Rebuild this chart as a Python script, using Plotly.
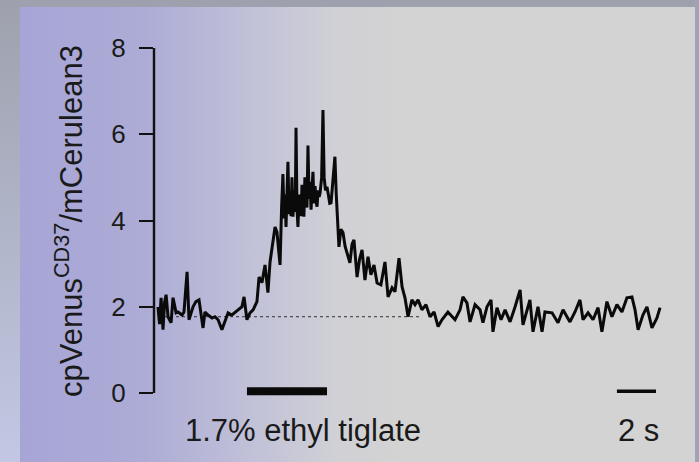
import base64
import plotly.graph_objects as go

# ---- data (time in s, ratio values) ----
time_s = [0.00, 0.08, 0.16, 0.26, 0.34, 0.42, 0.52, 0.68, 0.78, 0.94, 1.04, 1.25, 1.35, 1.51, 1.61,
          1.82, 1.97, 2.13, 2.34, 2.44, 2.60, 2.81, 2.96, 3.12, 3.32, 3.48, 3.64, 3.84, 4.00, 4.16,
          4.36, 4.47, 4.62, 4.78, 4.94, 5.14, 5.25, 5.40, 5.56, 5.71, 5.82, 5.92, 6.08, 6.18, 6.34,
          6.42, 6.49, 6.55, 6.60, 6.65, 6.70, 6.75, 6.81, 6.86, 6.91, 6.96, 7.01, 7.08, 7.13, 7.17,
          7.22, 7.27, 7.33, 7.38, 7.43, 7.48, 7.53, 7.58, 7.63, 7.69, 7.74, 7.79, 7.85, 7.90, 7.95,
          8.00, 8.05, 8.10, 8.16, 8.21, 8.26, 8.32, 8.37, 8.42, 8.50, 8.57, 8.63, 8.70, 8.78, 8.85,
          8.92, 8.99, 9.05, 9.12, 9.19, 9.26, 9.33, 9.40, 9.50, 9.61, 9.72, 9.82, 9.97, 10.08, 10.18,
          10.34, 10.47, 10.60, 10.75, 10.91, 11.06, 11.22, 11.38, 11.58, 11.79, 11.95, 12.16, 12.31,
          12.52, 12.68, 12.83, 12.99, 13.19, 13.35, 13.51, 13.71, 13.92, 14.13, 14.34, 14.55, 14.75,
          15.06, 15.43, 15.69, 15.84, 16.05, 16.21, 16.47, 16.73, 16.88, 17.09, 17.30, 17.40, 17.61,
          17.82, 18.03, 18.29, 18.55, 18.81, 18.96, 19.17, 19.32, 19.48, 19.74, 19.95, 20.10, 20.47,
          20.78, 21.04, 21.40, 21.66, 21.92, 22.08, 22.34, 22.60, 22.86, 23.06, 23.32, 23.58, 23.84,
          24.10, 24.36, 24.62, 24.78, 24.94, 25.19, 25.40, 25.66, 25.92, 26.08]
ratio = [2.00, 1.60, 2.21, 1.47, 2.10, 2.28, 1.77, 1.63, 2.21, 1.86, 1.88, 1.81, 1.88, 2.81, 1.70,
         2.00, 2.12, 2.16, 1.51, 1.88, 1.81, 1.74, 1.77, 1.70, 1.47, 1.65, 1.86, 1.81, 1.88, 1.93,
         2.00, 2.23, 1.70, 1.86, 1.93, 2.12, 2.69, 2.56, 2.97, 2.33, 3.04, 3.32, 3.85, 3.73, 2.97,
         4.30, 5.08, 4.05, 4.60, 3.85, 4.80, 5.36, 4.15, 4.55, 4.10, 5.00, 4.09, 4.70, 4.20, 6.15,
         4.30, 3.85, 4.60, 4.48, 4.10, 4.83, 4.35, 4.09, 5.00, 4.71, 4.30, 5.74, 4.50, 4.90, 4.25,
         4.70, 5.13, 4.40, 4.80, 4.45, 4.32, 4.70, 4.55, 4.64, 5.00, 6.56, 5.00, 4.70, 4.78, 4.60,
         4.40, 4.41, 4.70, 5.10, 5.48, 4.60, 3.90, 3.39, 3.80, 3.72, 3.40, 3.25, 3.02, 3.45, 3.55,
         2.69, 3.10, 3.32, 2.62, 3.16, 2.74, 2.97, 2.55, 2.51, 3.04, 2.23, 2.44, 2.35,
         3.13, 2.46, 2.21, 1.77, 2.16, 2.05, 2.16, 1.93, 2.05, 1.77, 1.88, 1.54, 1.70,
         1.88, 1.70, 1.93, 2.23, 2.09, 1.65, 2.05, 1.93, 1.63, 2.00, 2.16, 1.42, 1.98,
         1.70, 1.93, 1.65, 2.00, 2.39, 1.58, 1.93, 2.16, 1.42, 2.00, 1.42, 1.88, 1.86,
         1.63, 1.93, 1.65, 1.88, 2.16, 1.70, 1.86, 1.70, 1.98, 1.42, 2.12, 1.77, 2.05,
         1.88, 2.21, 2.23, 1.93, 1.47, 1.81, 2.00, 1.51, 1.74, 1.98]

baseline_level = 1.77
baseline_span = [0.0, 13.6]
stimulus_span = [4.62, 8.78]
stimulus_label = "1.7% ethyl tiglate"
scalebar_span = [23.84, 25.87]
scalebar_label = "2 s"
y_ticks = [0, 2, 4, 6, 8]
y_title = "cpVenus<sup>CD37</sup>/mCerulean3"

# ---- layout geometry ----
W, H = 699, 462
ML, MR, MT, MB = 154, 29, 48, 56
PW, PH = W - ML - MR, H - MT - MB

svg = f'''<svg xmlns="http://www.w3.org/2000/svg" width="{W}" height="{H}" viewBox="0 0 {W} {H}" preserveAspectRatio="none">
<defs>
<linearGradient id="o" x1="0" y1="0" x2="0" y2="1">
<stop offset="0" stop-color="#9ea1ad"/><stop offset="1" stop-color="#c2c8e4"/></linearGradient>
<linearGradient id="i" gradientUnits="userSpaceOnUse" x1="20" y1="0" x2="400" y2="0">
<stop offset="0" stop-color="#a6a5d6"/><stop offset="0.33" stop-color="#adacd6"/>
<stop offset="0.6" stop-color="#c0c0d8"/><stop offset="0.83" stop-color="#d0d0d6"/>
<stop offset="1" stop-color="#d3d3d3"/></linearGradient>
</defs>
<rect x="0" y="0" width="{W}" height="{H}" fill="url(#o)"/>
<rect x="694" y="0" width="5" height="{H}" fill="#9ea4b8"/>
<rect x="20" y="7" width="675" height="{H-7}" fill="url(#i)"/>
</svg>'''
bg_src = "data:image/svg+xml;base64," + base64.b64encode(svg.encode()).decode()

fig = go.Figure()

fig.add_trace(go.Scatter(x=baseline_span, y=[baseline_level, baseline_level], mode="lines",
                         line=dict(color="#333333", width=1, dash="3px,3px"), hoverinfo="skip"))
fig.add_trace(go.Scatter(x=time_s, y=ratio, mode="lines",
                         line=dict(color="#0a0a0a", width=3), hoverinfo="skip"))
fig.add_trace(go.Scatter(x=stimulus_span, y=[0.04, 0.04], mode="lines",
                         line=dict(color="#0a0a0a", width=8), hoverinfo="skip"))
fig.add_trace(go.Scatter(x=scalebar_span, y=[0.04, 0.04], mode="lines",
                         line=dict(color="#0a0a0a", width=3.5), hoverinfo="skip"))

t_left = -(158 - ML) / 19.25
t_right = t_left + PW / 19.25

fig.update_layout(
    width=W, height=H,
    margin=dict(l=ML, r=MR, t=MT, b=MB),
    paper_bgcolor="#d3d3d3", plot_bgcolor="rgba(0,0,0,0)",
    showlegend=False,
    font=dict(family="Liberation Sans, Arial, sans-serif", color="#1a1a1a"),
    xaxis=dict(range=[t_left, t_right], visible=False, fixedrange=True),
    yaxis=dict(range=[-0.3, 8.0], tickvals=y_ticks, ticks="outside", ticklen=14, tickwidth=2.2,
               tickcolor="#111111", showline=False, showgrid=False, zeroline=False,
               tickfont=dict(size=26, color="#1a1a1a"), ticklabelstandoff=8, fixedrange=True),
    images=[dict(source=bg_src, xref="paper", yref="paper",
                 x=-ML / PW, y=1 + MT / PH, sizex=W / PW, sizey=H / PH,
                 xanchor="left", yanchor="top", sizing="stretch", layer="below")],
    shapes=[dict(type="line", xref="paper", yref="y", x0=0, x1=0, y0=0, y1=8,
                 line=dict(color="#111111", width=2.4))],
    annotations=[
        dict(text=y_title, xref="paper", yref="paper", x=(69 - ML) / PW, y=(H - MB - 221) / PH,
             textangle=-90, showarrow=False, font=dict(size=31, color="#1a1a1a"),
             xanchor="center", yanchor="middle"),
        dict(text=stimulus_label, xref="x", yref="paper", x=(183 - 158) / 19.25,
             y=(H - MB - 430) / PH, xanchor="left", yanchor="middle", showarrow=False,
             font=dict(size=31, color="#1a1a1a")),
        dict(text=scalebar_label, xref="x", yref="paper", x=(638 - 158) / 19.25,
             y=(H - MB - 430) / PH, xanchor="center", yanchor="middle", showarrow=False,
             font=dict(size=31, color="#1a1a1a")),
    ],
)

fig.write_html(
    "out.html",
    config={"displayModeBar": False},
    post_script="document.body.style.margin='0';document.body.style.background='#9ea1ad';",
)
